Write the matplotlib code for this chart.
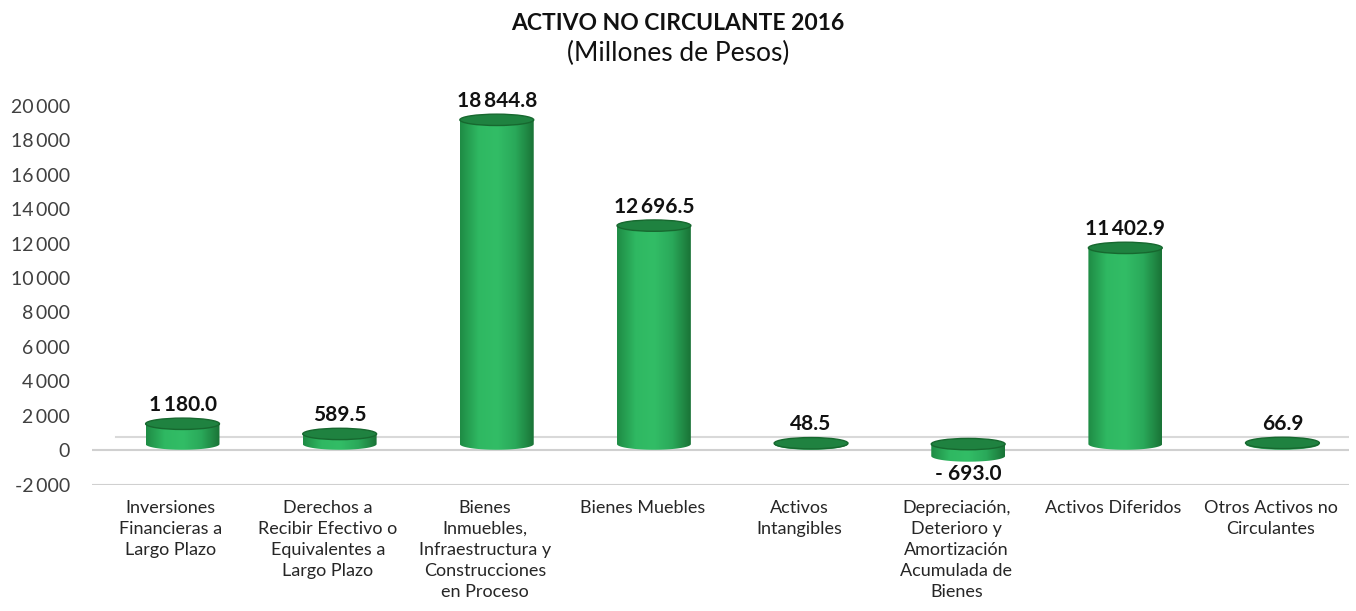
import numpy as np
import matplotlib.pyplot as plt
from matplotlib.patches import Ellipse, Polygon
from matplotlib.colors import LinearSegmentedColormap

plt.rcParams['font.family'] = ['Lato', 'DejaVu Sans']

categorias = ["Inversiones\nFinancieras a\nLargo Plazo",
              "Derechos a\nRecibir Efectivo o\nEquivalentes a\nLargo Plazo",
              "Bienes\nInmuebles,\nInfraestructura y\nConstrucciones\nen Proceso",
              "Bienes Muebles",
              "Activos\nIntangibles",
              "Depreciación,\nDeterioro y\nAmortización\nAcumulada de\nBienes",
              "Activos Diferidos",
              "Otros Activos no\nCirculantes"]
valores = [1180.0, 589.5, 18844.8, 12696.5, 48.5, -693.0, 11402.9, 66.9]
yticks = list(range(-2000, 20001, 2000))


def miles(v, dec=0):
    s = f"{abs(v):,.{dec}f}".replace(",", "\u2009")
    return s if v >= 0 else "-" + s


fig, ax = plt.subplots(figsize=(13.56, 6.11), dpi=100)
fig.subplots_adjust(left=0.068, right=0.995, top=0.835, bottom=0.207)

verde = LinearSegmentedColormap.from_list(
    "verde", ["#1f8c45", "#2fb862", "#32bd66", "#2aa95a", "#1a7437"])

base = 350      # profundidad 3D
w = 0.47
shift = 0.075
h = 330         # medio alto de la elipse

for i, v in enumerate(valores):
    xc = i + shift
    top = max(base, base + v)
    bot = min(base, base + v)
    t = np.linspace(0, np.pi, 40)
    arc_x = xc + (w / 2) * np.cos(t)
    arc_y = bot - h * np.sin(t)
    pts = [(xc - w / 2, top), (xc + w / 2, top)] + list(zip(arc_x, arc_y))
    body = Polygon(pts, closed=True, facecolor="none", edgecolor="none")
    ax.add_patch(body)
    grad = np.linspace(0, 1, 100).reshape(1, -1)
    im = ax.imshow(grad, extent=[xc - w / 2, xc + w / 2, bot - h, top],
                   aspect="auto", cmap=verde, zorder=3)
    im.set_clip_path(body)
    ax.add_patch(Ellipse((xc, top), w, 2 * h, facecolor="#1f8240",
                         edgecolor="#17682f", lw=1, zorder=4))
    if v >= 0:
        ax.text(xc, top + h + 200, miles(v, 1), ha="center", va="bottom",
                fontsize=15, fontweight="bold", color="#111111")
    else:
        ax.text(xc, bot - h - 150, "- " + miles(-v, 1), ha="center", va="top",
                fontsize=15, fontweight="bold", color="#111111")

ax.axhline(0, color="#d0d0d0", lw=1.5, zorder=1)
ax.axhline(-2000, color="#d0d0d0", lw=1.5, zorder=1)
ax.plot([-0.35, 7.5], [760, 760], color="#d9d9d9", lw=1.5, zorder=1)

ax.set_xlim(-0.5, 7.5)
ax.set_ylim(-2000, 20300)
ax.set_yticks(yticks)
ax.set_yticklabels([miles(t) for t in yticks], fontsize=14, color="#404040")
ax.set_xticks(range(len(categorias)))
ax.set_xticklabels(categorias, fontsize=13, color="#262626", linespacing=1.38, va="top")
ax.tick_params(length=0, axis="both")
ax.tick_params(axis="x", pad=11)
ax.tick_params(axis="y", pad=16)
for s in ax.spines.values():
    s.set_visible(False)

fig.text(0.5, 0.962, "ACTIVO NO CIRCULANTE 2016", ha="center", va="center",
         fontsize=16.5, fontweight="bold", color="#111111")
fig.text(0.5, 0.912, "(Millones de Pesos)", ha="center", va="center",
         fontsize=19, color="#111111")

fig.savefig("out.png", dpi=100)
